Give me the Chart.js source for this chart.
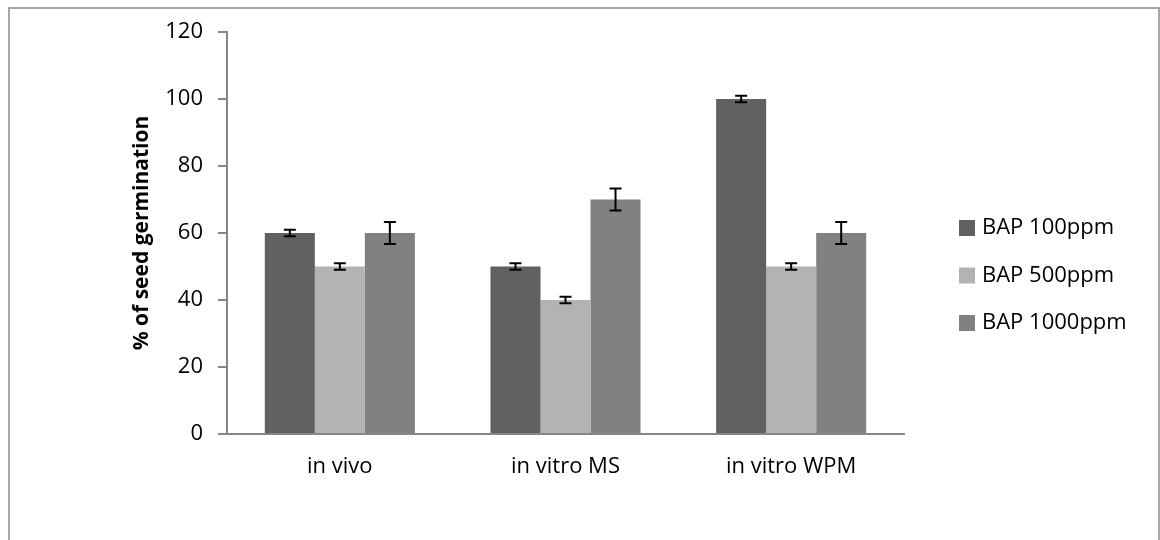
<!DOCTYPE html>
<html>
<head>
<meta charset="utf-8">
<script src="https://cdn.jsdelivr.net/npm/chart.js@4/dist/chart.umd.min.js"></script>
<style>
  body { margin: 0; background: #fff; }
  #wrap { width: 1160px; height: 540px; }
</style>
</head>
<body>
<div id="wrap"><canvas id="germChart" width="1160" height="540"></canvas></div>
<script>
const categories = ['in vivo', 'in vitro MS', 'in vitro WPM'];
const seriesNames = ['BAP 100ppm', 'BAP 500ppm', 'BAP 1000ppm'];
const bap100 = [60, 50, 100];
const bap500 = [50, 40, 50];
const bap1000 = [60, 70, 60];
const err100 = [1, 1, 1];
const err500 = [1, 1, 1];
const err1000 = [3.3, 3.3, 3.3];
const yTicks = [0, 20, 40, 60, 80, 100, 120];

const fontFam = '"Open Sans", "Noto Sans", sans-serif';
const fontSize = 22;
const colors = ['#616161', '#b3b3b3', '#818181'];
const errors = [err100, err500, err1000];

// frame around whole chart
const framePlugin = {
  id: 'frame',
  beforeDraw(chart) {
    const ctx = chart.ctx;
    ctx.save();
    ctx.strokeStyle = '#8a8a8a';
    ctx.lineWidth = 1.5;
    ctx.strokeRect(9, 8, 1150, 545);
    ctx.restore();
  }
};

// error bars drawn from the bar elements
const errorBarPlugin = {
  id: 'errorBars',
  afterDatasetsDraw(chart) {
    const ctx = chart.ctx;
    const yScale = chart.scales.y;
    ctx.save();
    ctx.strokeStyle = '#000';
    ctx.lineWidth = 2;
    chart.data.datasets.forEach((ds, di) => {
      const meta = chart.getDatasetMeta(di);
      meta.data.forEach((bar, i) => {
        const v = ds.data[i];
        const e = errors[di][i];
        const top = yScale.getPixelForValue(v + e);
        const bot = yScale.getPixelForValue(v - e);
        ctx.beginPath();
        ctx.moveTo(bar.x, top); ctx.lineTo(bar.x, bot);
        ctx.moveTo(bar.x - 6, top); ctx.lineTo(bar.x + 6, top);
        ctx.moveTo(bar.x - 6, bot); ctx.lineTo(bar.x + 6, bot);
        ctx.stroke();
      });
    });
    ctx.restore();
  }
};

// legend on the right, like the original
const legendPlugin = {
  id: 'sideLegend',
  afterDraw(chart) {
    const ctx = chart.ctx;
    ctx.save();
    ctx.font = fontSize + 'px ' + fontFam;
    ctx.textBaseline = 'middle';
    chart.data.datasets.forEach((ds, i) => {
      const y = 228 + i * 47.5;
      ctx.fillStyle = ds.backgroundColor;
      ctx.fillRect(959, y - 8, 16, 16);
      ctx.fillStyle = '#000';
      ctx.fillText(ds.label, 982, y);
    });
    ctx.restore();
  }
};

const ctx = document.getElementById('germChart').getContext('2d');
new Chart(ctx, {
  type: 'bar',
  data: {
    labels: categories,
    datasets: [
      { label: seriesNames[0], data: bap100, backgroundColor: colors[0] },
      { label: seriesNames[1], data: bap500, backgroundColor: colors[1] },
      { label: seriesNames[2], data: bap1000, backgroundColor: colors[2] }
    ]
  },
  options: {
    responsive: false,
    animation: false,
    layout: { padding: { left: 0, top: 32, right: 256, bottom: 0 } },
    datasets: { bar: { barPercentage: 1, categoryPercentage: 0.665 } },
    plugins: { legend: { display: false }, tooltip: { enabled: false } },
    scales: {
      x: {
        grid: { display: false, drawTicks: false },
        border: { display: true, color: '#868686', width: 2 },
        ticks: { color: '#000', font: { family: fontFam, size: fontSize }, padding: 20 },
        afterFit(scale) { scale.height = 106; }
      },
      y: {
        min: 0,
        max: 120,
        afterBuildTicks(scale) { scale.ticks = yTicks.map(v => ({ value: v })); },
        grid: { drawOnChartArea: false, drawTicks: true, tickLength: 9, color: '#868686', lineWidth: 2 },
        border: { display: true, color: '#868686', width: 2 },
        ticks: { color: '#000', font: { family: fontFam, size: fontSize }, padding: 15 },
        title: {
          display: true,
          text: '% of seed germination',
          color: '#000',
          font: { family: fontFam, size: 21, weight: 'bold' },
          padding: { top: 129, bottom: 0 }
        },
        afterFit(scale) { scale.width = 227; }
      }
    }
  },
  plugins: [framePlugin, errorBarPlugin, legendPlugin]
});
</script>
</body>
</html>
